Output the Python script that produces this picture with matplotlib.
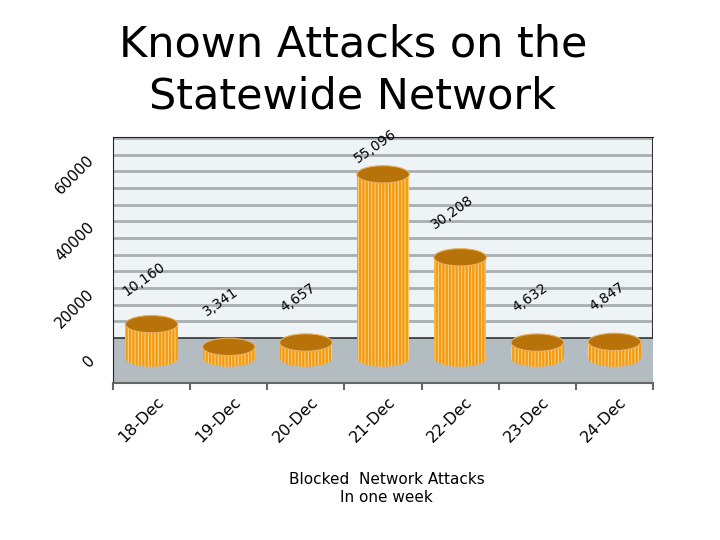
import matplotlib
matplotlib.use("Agg")
import matplotlib.pyplot as plt
import matplotlib.transforms as mtransforms
from matplotlib.patches import Rectangle, Ellipse
import numpy as np

days = ["18-Dec", "19-Dec", "20-Dec", "21-Dec", "22-Dec", "23-Dec", "24-Dec"]
attacks = [10160, 3341, 4657, 55096, 30208, 4632, 4847]
y_ticks = [0, 20000, 40000, 60000]

wall_color = "#eef3f6"
floor_color = "#b3bcc1"
grid_color = "#a9aeb1"
bar_color = "#f29a14"
stripe_color = "#ffd68a"
top_color = "#b8720a"

plt.rcParams["font.family"] = "DejaVu Sans"
plt.rcParams["hatch.linewidth"] = 0.7

fig = plt.figure(figsize=(7.2, 5.4), dpi=100)
ax = fig.add_axes([0.157, 0.2907, 0.75, 0.4556])

x = np.arange(len(days))
ax.set_xlim(-0.5, len(days) - 0.5)
ax.set_ylim(-7500, 66300)

# 3d look: back wall is lifted by this much compared to the front plane
depth = 6000
ax.add_patch(Rectangle((-0.5, depth), len(days), 70000, facecolor=wall_color,
                       edgecolor="none", zorder=0))
ax.add_patch(Rectangle((-0.5, -7500), len(days), 7500 + depth, facecolor=floor_color,
                       edgecolor="none", zorder=0))
for g in range(5000, 65000, 5000):
    ax.plot([-0.5, len(days) - 0.5], [g + depth, g + depth], color=grid_color, lw=2, zorder=1)
ax.plot([-0.5, len(days) - 0.5], [depth, depth], color="#333333", lw=1.2, zorder=1)
ax.plot([len(days) - 0.5, len(days) - 0.5], [depth, 66300], color="#333333", lw=1.5, zorder=1)

w = 0.68
eh = 5200
for xi, v in zip(x, attacks):
    ax.add_patch(Ellipse((xi, 0), w, eh, facecolor=bar_color, edgecolor=stripe_color,
                         hatch="|||||", lw=0, zorder=2))
    ax.add_patch(Rectangle((xi - w / 2, 0), w, v, facecolor=bar_color, edgecolor=stripe_color,
                           hatch="|||||", lw=0, zorder=3))
    ax.add_patch(Ellipse((xi, v), w, eh, facecolor=top_color, edgecolor="#e8b060",
                         lw=0.8, zorder=4))
    ax.text(xi - 0.1, min(v + 13500, 63500), f"{v:,}", rotation=35, fontsize=10,
            ha="center", va="center", zorder=5)

ax.spines["right"].set_visible(False)
ax.spines["left"].set_color("#222222")
ax.spines["top"].set_color("#222222")
ax.spines["bottom"].set_color("#666666")
ax.spines["bottom"].set_linewidth(1.5)

ax.set_yticks(y_ticks)
ax.set_yticklabels([str(t) for t in y_ticks], rotation=45, ha="right", va="center",
                   rotation_mode="anchor", fontsize=11)
ax.tick_params(axis="y", length=0, pad=15)

ax.set_xticks(x)
ax.set_xticklabels(days, rotation=45, ha="right", va="center", rotation_mode="anchor",
                   fontsize=11.5)
ax.tick_params(axis="x", which="major", length=0, pad=12)
ax.set_xticks(np.arange(len(days) + 1) - 0.5, minor=True)
ax.tick_params(axis="x", which="minor", length=5, color="#666666", width=1.5)
shift = mtransforms.ScaledTranslation(10 / 100, 0, fig.dpi_scale_trans)
for lab in ax.get_xticklabels():
    lab.set_transform(lab.get_transform() + shift)

fig.text(0.49, 0.87, "Known Attacks on the\nStatewide Network", ha="center", va="center",
         fontsize=31, linespacing=1.3)
fig.text(0.537, 0.095, "Blocked  Network Attacks\nIn one week", ha="center", va="center",
         fontsize=11)

fig.savefig("out.png", dpi=100)
